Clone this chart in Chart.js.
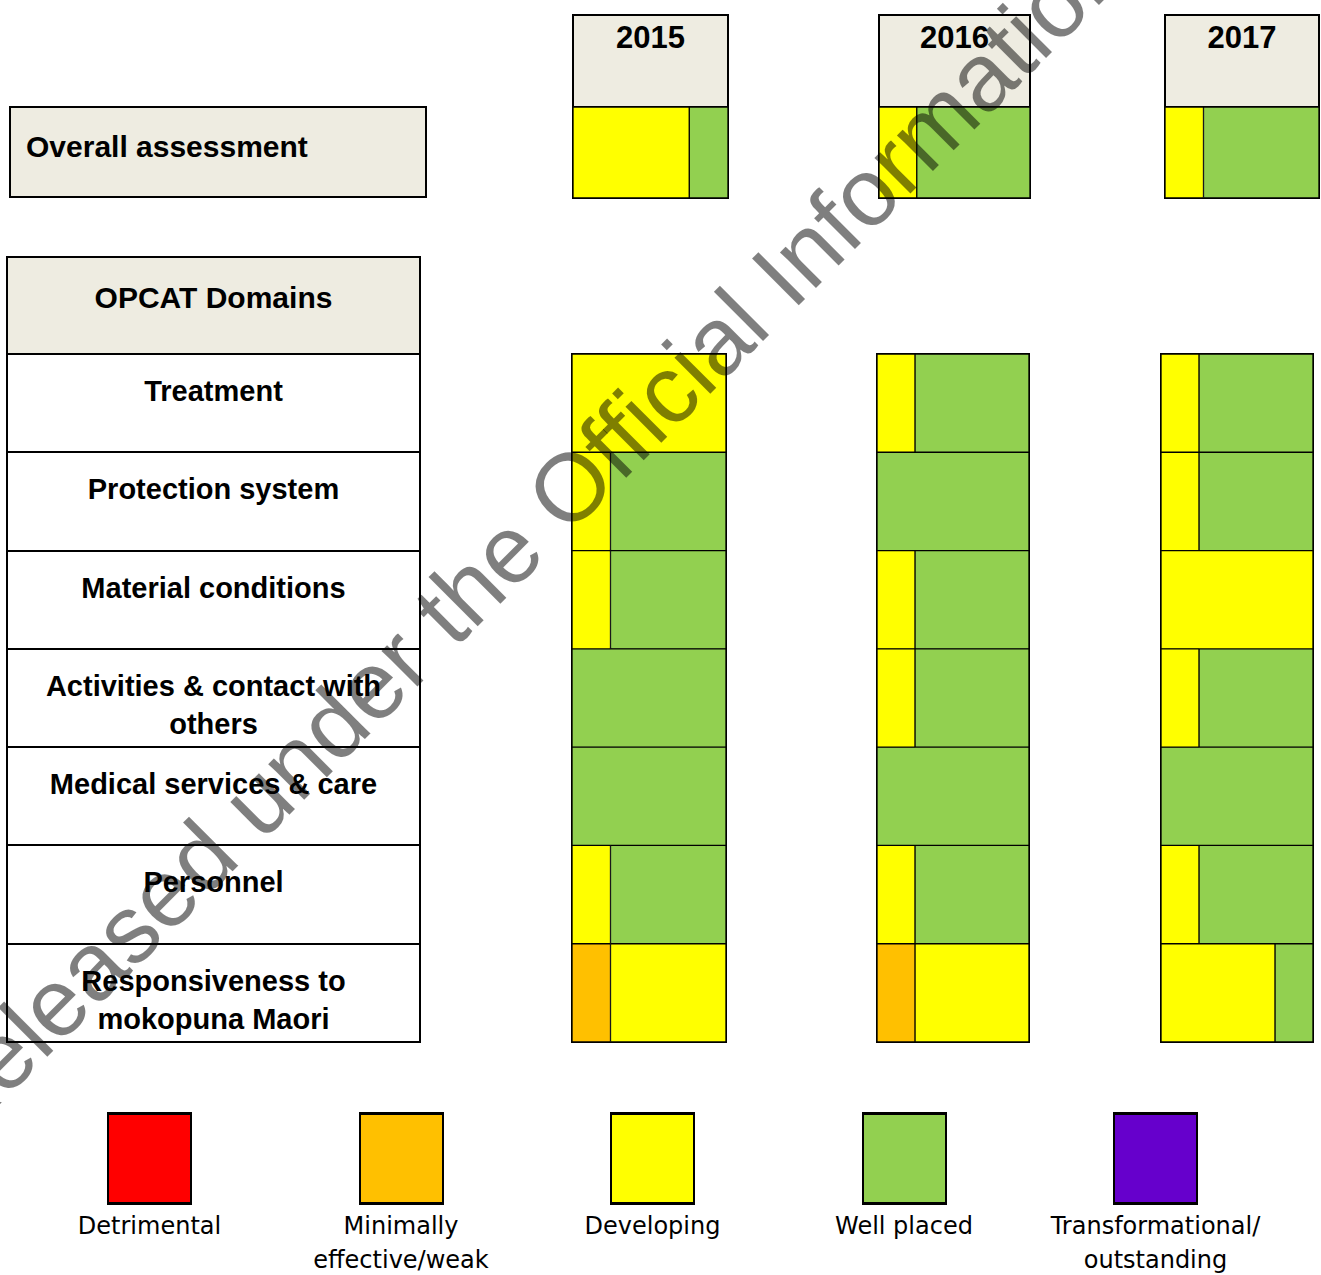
<!DOCTYPE html>
<html>
<head>
<meta charset="utf-8">
<script src="https://cdn.jsdelivr.net/npm/chart.js@4.4.1/dist/chart.umd.min.js"></script>
<style>
  body { margin: 0; background: #fff; }
  #page { position: relative; width: 1321px; height: 1275px; overflow: hidden;
          font-family: 'Liberation Sans', Arial, sans-serif; color: #000; }
  .cell { position: absolute; box-sizing: border-box; border: 2px solid #000; }
  .beige { background: #EEECE1; }
  .bold { font-weight: bold; }
  .row { background: #fff; text-align: center; font-size: 29px; line-height: 38px;
         font-weight: bold; padding-top: 17px; }
  .year { text-align: center; font-size: 31px; line-height: 38px; font-weight: bold; padding-top: 3px; }
  .plot { position: absolute; box-sizing: border-box; border: 1px solid #000; }
  .swatch { position: absolute; box-sizing: border-box; width: 85px; height: 93px;
            border: 2px solid #000; border-top-width: 3px; border-bottom-width: 3px; }
  .legendText { position: absolute; width: 300px; text-align: center;
                font-family: 'DejaVu Sans', sans-serif; font-size: 24px; line-height: 34px; }
  #mark { position: absolute; left: 0; top: 0; pointer-events: none; }
</style>
</head>
<body>
<div id="page">
  <div class="cell beige bold" style="left:9px;top:106px;width:418px;height:92px;font-size:30px;line-height:34px;padding:22px 0 0 15px;">Overall assessment</div>
  <div class="cell beige bold" style="left:6px;top:256px;width:415px;height:100px;font-size:30px;line-height:34px;padding-top:23px;text-align:center;">OPCAT Domains</div>
  <div id="rows"></div>
  <div id="years"></div>
  <div id="legend"></div>
  <svg id="mark" width="1321" height="1275">
    <text x="-44" y="1148" transform="rotate(-45 -44 1148)" font-family="Liberation Sans, Arial, sans-serif"
          font-size="96" fill="#000" fill-opacity="0.5">Released under the Official Information Act</text>
  </svg>
</div>

<script>
// ratings, left to right
const ratings = ['Detrimental', 'Minimally effective/weak', 'Developing', 'Well placed', 'Transformational/ outstanding'];
const ratingLines = [['Detrimental'], ['Minimally', 'effective/weak'], ['Developing'], ['Well placed'], ['Transformational/', 'outstanding']];
const ratingColors = ['#FF0000', '#FFC000', '#FFFF00', '#92D050', '#6600CC'];

const years = ['2015', '2016', '2017'];
const domains = ['Treatment', 'Protection system', 'Material conditions',
  ['Activities & contact with', 'others'], 'Medical services & care', 'Personnel',
  ['Responsiveness to', 'mokopuna Maori']];

// overall assessment, in quarters, per rating
const overall2015 = [0, 0, 3, 1, 0];
const overall2016 = [0, 0, 1, 3, 0];
const overall2017 = [0, 0, 1, 3, 0];

// domain assessments, in quarters, one value per domain
const detrimentalAll = [0, 0, 0, 0, 0, 0, 0];
const transformationalAll = [0, 0, 0, 0, 0, 0, 0];

const weak2015       = [0, 0, 0, 0, 0, 0, 1];
const developing2015 = [4, 1, 1, 0, 0, 1, 3];
const wellPlaced2015 = [0, 3, 3, 4, 4, 3, 0];

const weak2016       = [0, 0, 0, 0, 0, 0, 1];
const developing2016 = [1, 0, 1, 1, 0, 1, 3];
const wellPlaced2016 = [3, 4, 3, 3, 4, 3, 0];

const weak2017       = [0, 0, 0, 0, 0, 0, 0];
const developing2017 = [1, 1, 4, 1, 0, 1, 3];
const wellPlaced2017 = [3, 3, 0, 3, 4, 3, 1];

const overallByYear = [overall2015, overall2016, overall2017];
const domainsByYear = [
  [detrimentalAll, weak2015, developing2015, wellPlaced2015, transformationalAll],
  [detrimentalAll, weak2016, developing2016, wellPlaced2016, transformationalAll],
  [detrimentalAll, weak2017, developing2017, wellPlaced2017, transformationalAll]
];

// page geometry
const headLeft = [572, 878, 1164];
const headWidth = [157, 153, 156];
const colLeft = [571, 876, 1160];
const colWidth = [154, 152, 152];
const rowsTop = 354, rowsBottom = 1042;

function el(parent, cls, style, lines) {
  const d = document.createElement('div');
  d.className = cls;
  Object.assign(d.style, style);
  (lines || []).forEach((t, i) => {
    if (i > 0) d.appendChild(document.createElement('br'));
    d.appendChild(document.createTextNode(t));
  });
  parent.appendChild(d);
  return d;
}

// left table rows
const rowsDiv = document.getElementById('rows');
domains.forEach((name, i) => {
  const top = rowsTop + Math.round(i * (rowsBottom - rowsTop) / domains.length);
  const next = rowsTop + Math.round((i + 1) * (rowsBottom - rowsTop) / domains.length);
  el(rowsDiv, 'cell row', {left: '6px', top: (top - 1) + 'px', width: '415px', height: (next - top + 2) + 'px'},
    Array.isArray(name) ? name : [name]);
});

function makeChart(holder, labels, values) {
  const canvas = document.createElement('canvas');
  holder.appendChild(canvas);
  return new Chart(canvas, {
    type: 'bar',
    data: {
      labels: labels,
      datasets: ratings.map((r, i) => ({
        label: r,
        data: values[i],
        backgroundColor: ratingColors[i]
      }))
    },
    options: {
      indexAxis: 'y',
      responsive: true,
      maintainAspectRatio: false,
      animation: false,
      layout: { padding: 0 },
      plugins: { legend: { display: false }, tooltip: { enabled: false } },
      datasets: {
        bar: { categoryPercentage: 1, barPercentage: 1, borderWidth: 1, borderColor: '#000', borderSkipped: false }
      },
      scales: {
        x: { stacked: true, min: 0, max: 4, display: false },
        y: { stacked: true, display: false }
      }
    }
  });
}

// year columns
const yearsDiv = document.getElementById('years');
years.forEach((y, k) => {
  el(yearsDiv, 'cell beige year', {left: headLeft[k] + 'px', top: '14px', width: headWidth[k] + 'px', height: '94px'}, [y]);

  const overallHolder = el(yearsDiv, 'plot', {left: headLeft[k] + 'px', top: '106px', width: headWidth[k] + 'px', height: '93px', borderWidth: '1px'});
  makeChart(overallHolder, ['Overall assessment'], overallByYear[k].map(v => [v]));

  const colHolder = el(yearsDiv, 'plot', {left: colLeft[k] + 'px', top: (rowsTop - 1) + 'px', width: (colWidth[k] + 2) + 'px', height: (rowsBottom - rowsTop + 2) + 'px'});
  makeChart(colHolder, domains, domainsByYear[k]);
});

// legend
const legendDiv = document.getElementById('legend');
ratings.forEach((r, i) => {
  const left = 107 + i * 251.5;
  el(legendDiv, 'swatch', {left: left + 'px', top: '1112px', background: ratingColors[i]});
  el(legendDiv, 'legendText', {left: (left + 42.5 - 150) + 'px', top: '1209px'}, ratingLines[i]);
});
</script>
</body>
</html>
